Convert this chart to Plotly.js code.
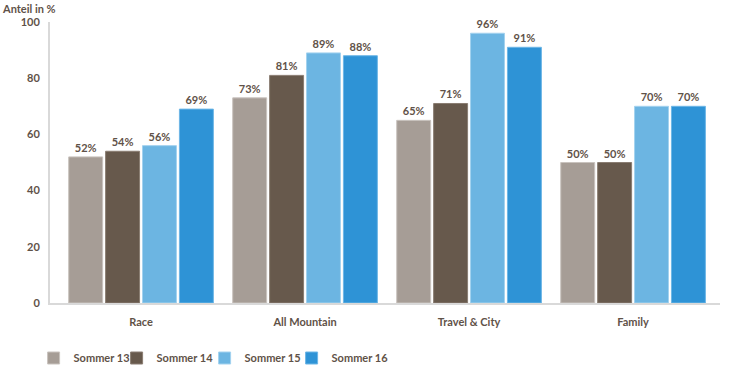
<!DOCTYPE html>
<html>
<head>
<meta charset="utf-8">
<script src="https://cdn.plot.ly/plotly-3.0.1.min.js"></script>
<style>html,body{margin:0;padding:0;background:#fff;}#chart{width:730px;height:366px;}</style>
</head>
<body>
<div id="chart"></div>
<script>
const categories = ["Race", "All Mountain", "Travel & City", "Family"];
const seriesNames = ["Sommer 13", "Sommer 14", "Sommer 15", "Sommer 16"];
const sommer13 = [52, 73, 65, 50];
const sommer14 = [54, 81, 71, 50];
const sommer15 = [56, 89, 96, 70];
const sommer16 = [69, 88, 91, 70];
const yTickVals = [0, 20, 40, 60, 80, 100];

const colors = ["#a69d96", "#67594c", "#6cb5e2", "#2e93d6"];
const lineColors = ["#c9c3be", "#8a7d72", "#a3d2ef", "#6db6e6"];
const textColor = "#5f5248";
const FONT = "Lato, 'Open Sans', sans-serif";
const allSeries = [sommer13, sommer14, sommer15, sommer16];
const legendIds = ["legend", "legend2", "legend3", "legend4"];
const swatchLeft = [47, 130, 218, 305];

const traces = allSeries.map((vals, i) => ({
  type: "bar",
  name: seriesNames[i],
  legend: legendIds[i],
  x: categories,
  y: vals,
  text: vals.map(v => v + "%"),
  textposition: "outside",
  cliponaxis: false,
  textfont: {family: FONT, size: 11, color: textColor, weight: 700},
  marker: {color: colors[i], line: {color: lineColors[i], width: 1}},
  hoverinfo: "none"
}));

const layout = {
  width: 730,
  height: 366,
  margin: {l: 50, r: 10, t: 22, b: 63, autoexpand: false},
  paper_bgcolor: "#ffffff",
  plot_bgcolor: "#ffffff",
  font: {family: FONT, size: 11, color: textColor, weight: 700},
  barmode: "group",
  bargap: 0.1,
  bargroupgap: 0.08,
  showlegend: true,
  xaxis: {
    type: "category",
    range: [-0.555, 3.53],
    showline: true,
    linecolor: "#d9d9d9",
    linewidth: 2,
    ticks: "",
    ticklabelstandoff: 8,
    showgrid: false,
    zeroline: false,
    tickfont: {family: FONT, size: 11, color: textColor, weight: 700}
  },
  yaxis: {
    range: [0, 100],
    tickvals: yTickVals,
    ticktext: yTickVals.map(String),
    showline: true,
    linecolor: "#d9d9d9",
    linewidth: 2,
    ticks: "",
    ticklabelstandoff: 6,
    showgrid: false,
    zeroline: false,
    tickfont: {family: FONT, size: 11, color: textColor, weight: 700}
  },
  annotations: [{
    text: "Anteil in %",
    xref: "paper", yref: "paper",
    x: -50/670, y: 1 + 22/281,
    xanchor: "left", yanchor: "top",
    showarrow: false,
    font: {family: FONT, size: 11, color: textColor, weight: 700}
  }]
};

legendIds.forEach((id, i) => {
  layout[id] = {
    orientation: "h",
    x: (swatchLeft[i] - 13.4 - 50) / 670,
    xanchor: "left",
    yref: "container",
    y: 8 / 366,
    yanchor: "middle",
    font: {family: FONT, size: 11, color: textColor, weight: 700},
    itemwidth: 30,
    bgcolor: "rgba(0,0,0,0)"
  };
});

Plotly.newPlot("chart", traces, layout, {displayModeBar: false, staticPlot: true});
</script>
</body>
</html>
